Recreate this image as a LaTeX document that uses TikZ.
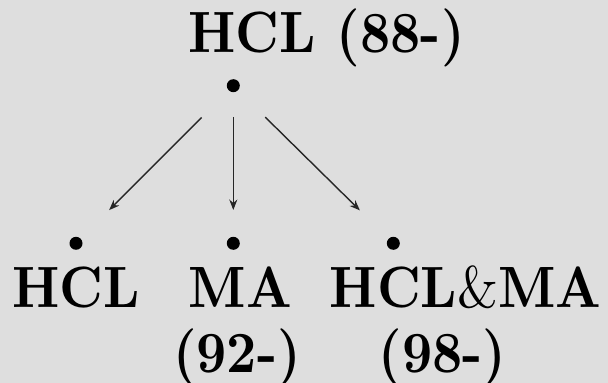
\documentclass[tikz,border=0pt]{standalone}
\usetikzlibrary{arrows.meta}
\definecolor{bggray}{HTML}{DEDEDE}
\newcommand{\stxt}[1]{\scalebox{1.315}[1.4575]{#1}}
\begin{document}
\begin{tikzpicture}[x=0.25pt,y=-0.25pt,
  lbl/.style={anchor=base,inner sep=0pt,font=\bfseries},
  dotnode/.style={circle,fill=black,inner sep=0pt,minimum size=3.25pt},
  arr/.style={-{Stealth[length=2.6pt,width=2pt]},line width=0.35pt,draw=black!85}]
\fill[bggray] (0,0) rectangle (608,383);
\useasboundingbox (0,0) rectangle (608,383);
% labels
\node[lbl] (top) at (326.5,53) {\stxt{HCL\hspace{0.4em}(88-)}};
\node[lbl] (l1) at (76,308) {\stxt{HCL}};
\node[lbl] (l2) at (240.5,308) {\stxt{MA}};
\node[lbl] (l3) at (465.5,308) {\stxt{HCL{\mdseries\&}MA}};
\node[lbl] (y2) at (237,372) {\stxt{(92-)}};
\node[lbl] (y3) at (442.5,372) {\stxt{(98-)}};
% dots
\node[dotnode] (d0) at (233.3,85.7) {};
\node[dotnode] (d1) at (76,243.3) {};
\node[dotnode] (d2) at (233.3,243.3) {};
\node[dotnode] (d3) at (393.3,243.3) {};
% arrows
\draw[arr,shorten <=9.4pt,shorten >=9.9pt] (d0) -- (d1);
\draw[arr,shorten <=6pt,shorten >=6.5pt] (d0) -- (d2);
\draw[arr,shorten <=9.4pt,shorten >=9.9pt] (d0) -- (d3);
\end{tikzpicture}
\end{document}
